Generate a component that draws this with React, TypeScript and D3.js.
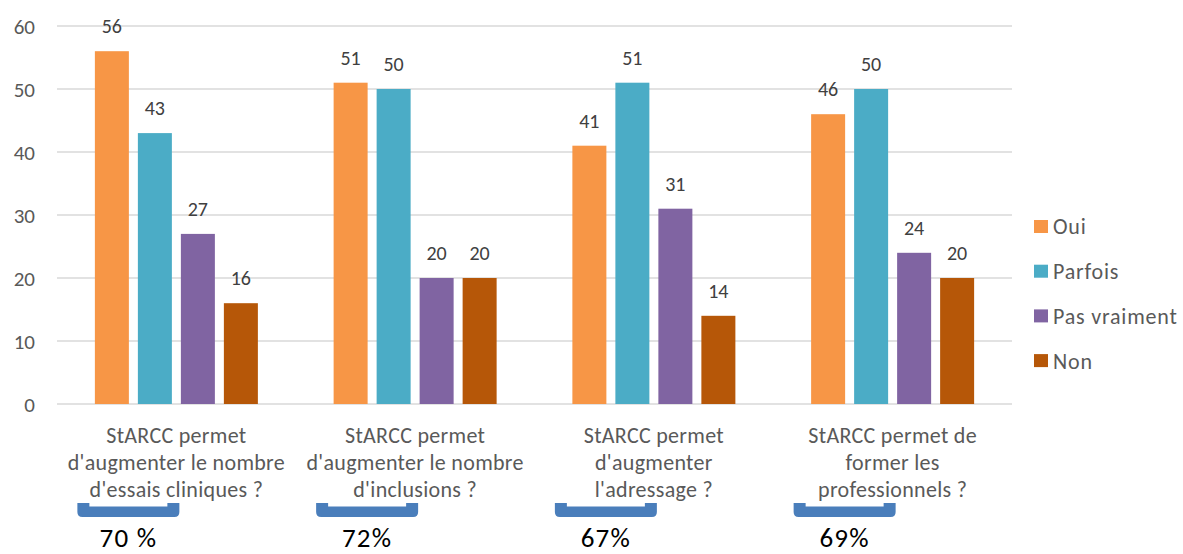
import * as d3 from "d3";

const categories = [
  ["StARCC permet", "d'augmenter le nombre", "d'essais cliniques ?"],
  ["StARCC permet", "d'augmenter le nombre", "d'inclusions ?"],
  ["StARCC permet", "d'augmenter", "l'adressage ?"],
  ["StARCC permet de", "former les", "professionnels ?"],
];
const seriesNames = ["Oui", "Parfois", "Pas vraiment", "Non"];
const oui = [56, 51, 41, 46];
const parfois = [43, 50, 51, 50];
const pasVraiment = [27, 20, 31, 24];
const non = [16, 20, 14, 20];
const percents = ["70 %", "72%", "67%", "69%"];
const yTicks = [0, 10, 20, 30, 40, 50, 60];
const colors = ["#F79646", "#4BACC6", "#8064A2", "#B65708"];

const W = 1183;
const H = 554;
const left = 57;
const right = 1012;
const top = 26;
const bottom = 404;
const font = "Carlito, Calibri, Lato, sans-serif";

export default function App() {
  const series = [oui, parfois, pasVraiment, non];
  const x0 = d3.scaleBand<number>().domain(d3.range(categories.length)).range([left, right]);
  const x1 = d3.scaleBand<number>().domain(d3.range(series.length)).range([0, 163]).paddingInner(9 / 43);
  const y = d3.scaleLinear().domain([0, 60]).range([bottom, top]);
  const groupOff = (x0.bandwidth() - 163) / 2;

  // blue bracket under each category label
  const bracket = (cx: number) => {
    const l = cx - 51, r = cx + 51, t = 503, b = 517, arm = 12, inner = 506.5, rad = 5;
    return `M${l},${t} L${l + arm},${t} L${l + arm},${inner} L${r - arm},${inner} L${r - arm},${t} L${r},${t} L${r},${b - rad} Q${r},${b} ${r - rad},${b} L${l + rad},${b} Q${l},${b} ${l},${b - rad} Z`;
  };

  return (
    <svg width={W} height={H} style={{ position: "absolute", left: 0, top: 0, background: "#fff" }}>
      <rect width={W} height={H} fill="#fff" />
      {yTicks.map((t) => (
        <g key={t}>
          <line x1={left} x2={right} y1={y(t)} y2={y(t)} stroke="#d9d9d9" strokeWidth={1.5} />
          <text x={35} y={y(t)} dy="0.36em" textAnchor="end" fontFamily={font} fontSize={21} fill="#595959">{t}</text>
        </g>
      ))}
      {categories.map((cat, i) => {
        const gx = x0(i)! + groupOff;
        const cx = x0(i)! + x0.bandwidth() / 2;
        return (
          <g key={i}>
            {series.map((s, j) => (
              <g key={j}>
                <rect x={gx + x1(j)!} y={y(s[i])} width={x1.bandwidth()} height={y(0) - y(s[i])} fill={colors[j]} />
                <text x={gx + x1(j)! + x1.bandwidth() / 2} y={y(s[i]) - 25} dy="0.36em" textAnchor="middle" fontFamily={font} fontSize={20} fill="#404040">{s[i]}</text>
              </g>
            ))}
            <path d={bracket(cx - 48)} fill="#4A7EBB" />
            {cat.map((line, k) => (
              <text key={k} x={cx} y={443 + k * 27} textAnchor="middle" fontFamily={font} fontSize={22} letterSpacing={0.3} fill="#595959">{line}</text>
            ))}
            <text x={cx - 48} y={547} textAnchor="middle" fontFamily={font} fontSize={27} letterSpacing={1.2} fill="#000">{percents[i]}</text>
          </g>
        );
      })}
      {seriesNames.map((n, j) => (
        <g key={n}>
          <rect x={1034} y={220 + j * 44.7} width={14} height={13} fill={colors[j]} />
          <text x={1053} y={226.5 + j * 44.7} dy="0.36em" fontFamily={font} fontSize={22} letterSpacing={0.8} fill="#595959">{n}</text>
        </g>
      ))}
    </svg>
  );
}
